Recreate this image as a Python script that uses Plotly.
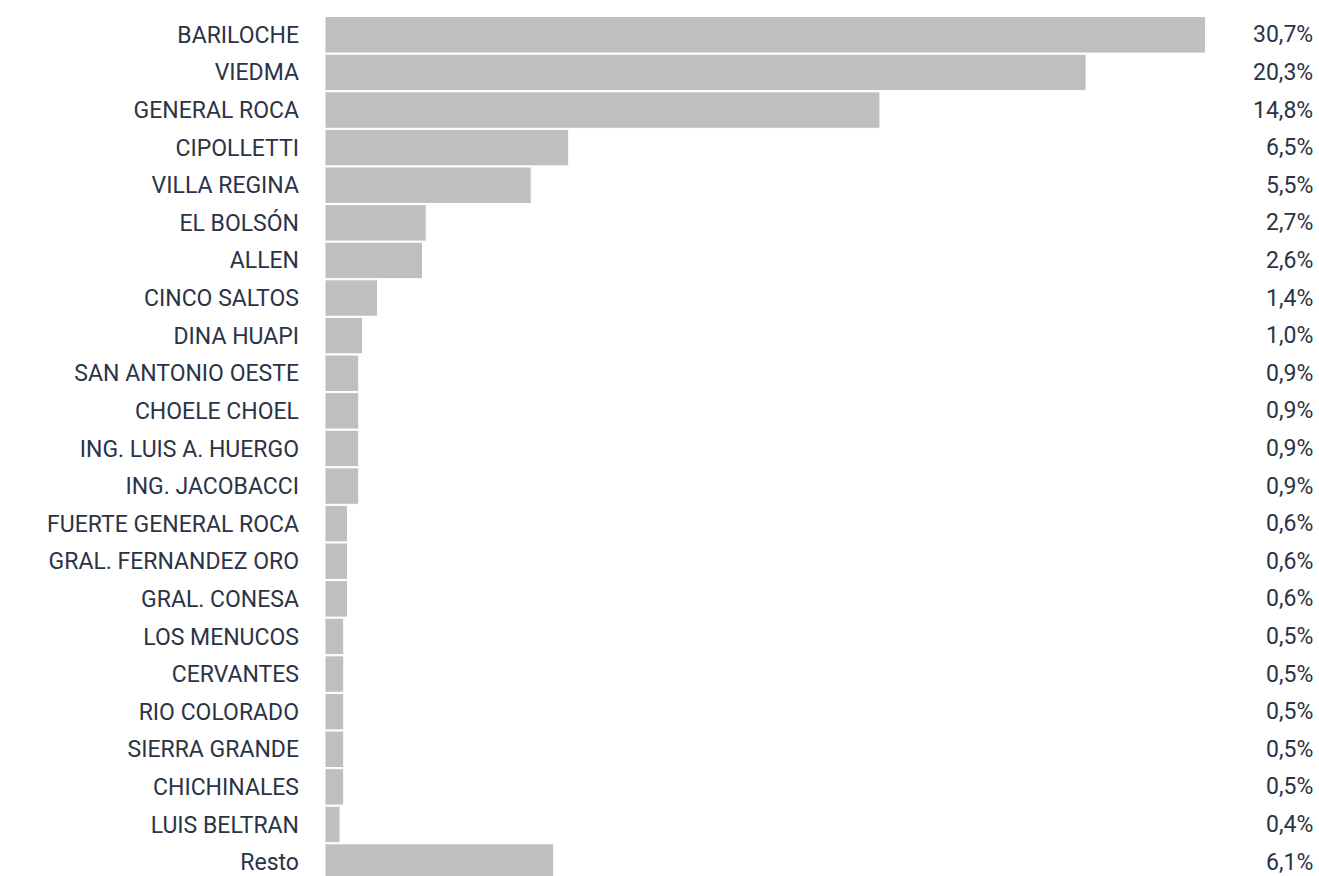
import plotly.graph_objects as go

categories = ["BARILOCHE", "VIEDMA", "GENERAL ROCA", "CIPOLLETTI", "VILLA REGINA",
              "EL BOLSÓN", "ALLEN", "CINCO SALTOS", "DINA HUAPI", "SAN ANTONIO OESTE",
              "CHOELE CHOEL", "ING. LUIS A. HUERGO", "ING. JACOBACCI", "FUERTE GENERAL ROCA",
              "GRAL. FERNANDEZ ORO", "GRAL. CONESA", "LOS MENUCOS", "CERVANTES",
              "RIO COLORADO", "SIERRA GRANDE", "CHICHINALES", "LUIS BELTRAN", "Resto"]
values = [30.7, 20.3, 14.8, 6.5, 5.5, 2.7, 2.6, 1.4, 1.0, 0.9, 0.9, 0.9, 0.9,
          0.6, 0.6, 0.6, 0.5, 0.5, 0.5, 0.5, 0.5, 0.4, 6.1]
value_labels = ["30,7%", "20,3%", "14,8%", "6,5%", "5,5%", "2,7%", "2,6%", "1,4%", "1,0%",
                "0,9%", "0,9%", "0,9%", "0,9%", "0,6%", "0,6%", "0,6%", "0,5%", "0,5%",
                "0,5%", "0,5%", "0,5%", "0,4%", "6,1%"]

ypos = list(range(len(categories)))
TEXT = "#2b3346"
FONT = "Roboto"
FS = 23

fig = go.Figure(go.Bar(
    x=values, y=ypos, orientation="h",
    marker=dict(color="#bfbfbf", line=dict(color="white", width=1)),
    width=0.97, hoverinfo="skip",
))

for yv, lab in zip(ypos, value_labels):
    fig.add_annotation(x=1.1245, xref="paper", y=yv, yref="y", text=lab,
                       showarrow=False, xanchor="right", yanchor="middle",
                       font=dict(family=FONT, size=FS, color=TEXT))

fig.update_layout(
    width=1319, height=876,
    margin=dict(l=325, r=114, t=16, b=0),
    plot_bgcolor="white", paper_bgcolor="white",
    showlegend=False,
    font=dict(family=FONT, size=FS, color=TEXT),
    xaxis=dict(range=[0, 23.47], visible=False, fixedrange=True),
    yaxis=dict(range=[22.37, -0.5], tickmode="array", tickvals=ypos, ticktext=categories,
               showgrid=False, zeroline=False, showline=False, ticks="",
               ticklabelstandoff=25, ticklabeloverflow="allow",
               tickfont=dict(family=FONT, size=FS, color=TEXT)),
)

fig.write_html("out.html", config={"displayModeBar": False},
               post_script="document.body.style.margin='0';document.body.style.overflow='hidden';")
